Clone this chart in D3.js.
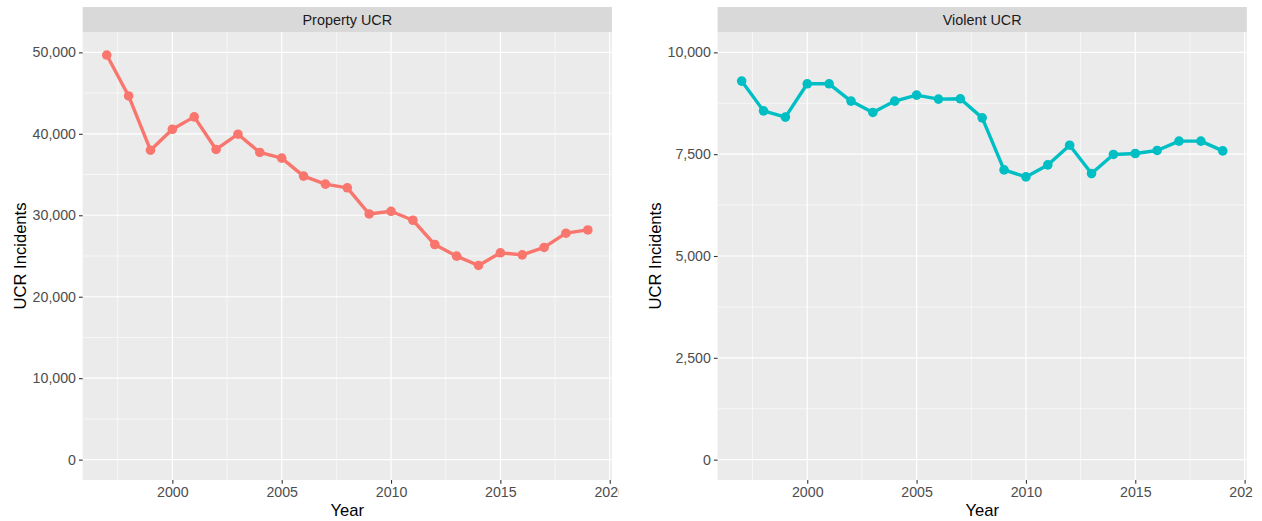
<!DOCTYPE html>
<html>
<head>
<meta charset="utf-8">
<script src="https://cdn.jsdelivr.net/npm/d3@7"></script>
<style>
  body { margin: 0; background: #fff; }
  svg { font-family: "Liberation Sans", Arial, sans-serif; }
</style>
</head>
<body>
<div id="chart"></div>
<script>
// data
var years = [1997, 1998, 1999, 2000, 2001, 2002, 2003, 2004, 2005, 2006, 2007, 2008,
             2009, 2010, 2011, 2012, 2013, 2014, 2015, 2016, 2017, 2018, 2019];
var propertyUCR = [49670, 44650, 37990, 40560, 42080, 38080, 39950, 37710, 37010, 34810, 33830, 33370,
                   30160, 30490, 29390, 26410, 24980, 23840, 25390, 25140, 26050, 27800, 28200];
var violentUCR = [9294, 8564, 8410, 9228, 9228, 8803, 8525, 8803, 8950, 8852, 8860, 8392,
                  7114, 6942, 7237, 7721, 7026, 7493, 7517, 7591, 7820, 7820, 7581];
var propertyTicks = [0, 10000, 20000, 30000, 40000, 50000];
var propertyMinor = [5000, 15000, 25000, 35000, 45000];
var violentTicks = [0, 2500, 5000, 7500, 10000];
var violentMinor = [1250, 3750, 6250, 8750];
var yearTicks = [2000, 2005, 2010, 2015, 2020];
var yearMinor = [1997.5, 2002.5, 2007.5, 2012.5, 2017.5];

var W = 1262, H = 521;
var fmt = d3.format(",");

var svg = d3.select("#chart").append("svg")
  .attr("width", W)
  .attr("height", H);

function drawPanel(o) {
  var top = 32, bottom = 480;

  var clipId = "clip" + o.id;
  svg.append("clipPath").attr("id", clipId)
    .append("rect")
    .attr("x", o.clipLeft).attr("y", 0)
    .attr("width", o.clipRight - o.clipLeft).attr("height", H);

  var g = svg.append("g").attr("clip-path", "url(#" + clipId + ")");

  var x = d3.scaleLinear().domain([1995.9, 2020.1]).range([o.left, o.right]);
  var y = d3.scaleLinear().domain(o.yDomain).range([bottom, top]);

  // panel background
  g.append("rect")
    .attr("x", o.left).attr("y", top)
    .attr("width", o.right - o.left).attr("height", bottom - top)
    .attr("fill", "#ebebeb");

  // strip
  g.append("rect")
    .attr("x", o.left).attr("y", 7)
    .attr("width", o.right - o.left).attr("height", 25)
    .attr("fill", "#d9d9d9");
  g.append("text")
    .attr("x", (o.left + o.right) / 2).attr("y", 24.5)
    .attr("text-anchor", "middle")
    .style("font-size", "14.4px")
    .attr("fill", "#1a1a1a")
    .text(o.title);

  // minor grid
  g.selectAll(".ymin").data(o.minor).enter().append("line")
    .attr("x1", o.left).attr("x2", o.right)
    .attr("y1", function(d) { return y(d); }).attr("y2", function(d) { return y(d); })
    .attr("stroke", "#fff").attr("stroke-width", 0.6);
  g.selectAll(".xmin").data(yearMinor).enter().append("line")
    .attr("y1", top).attr("y2", bottom)
    .attr("x1", function(d) { return x(d); }).attr("x2", function(d) { return x(d); })
    .attr("stroke", "#fff").attr("stroke-width", 0.6);

  // major grid
  g.selectAll(".ymaj").data(o.ticks).enter().append("line")
    .attr("x1", o.left).attr("x2", o.right)
    .attr("y1", function(d) { return y(d); }).attr("y2", function(d) { return y(d); })
    .attr("stroke", "#fff").attr("stroke-width", 1.2);
  g.selectAll(".xmaj").data(yearTicks).enter().append("line")
    .attr("y1", top).attr("y2", bottom)
    .attr("x1", function(d) { return x(d); }).attr("x2", function(d) { return x(d); })
    .attr("stroke", "#fff").attr("stroke-width", 1.2);

  // axes
  var yAxis = g.append("g")
    .attr("transform", "translate(" + o.left + ",0)")
    .call(d3.axisLeft(y).tickValues(o.ticks).tickFormat(fmt).tickSizeOuter(0).tickSize(3.7).tickPadding(3));
  var xAxis = g.append("g")
    .attr("transform", "translate(0," + bottom + ")")
    .call(d3.axisBottom(x).tickValues(yearTicks).tickFormat(d3.format("d")).tickSizeOuter(0).tickSize(3.7).tickPadding(3));
  [yAxis, xAxis].forEach(function(a) {
    a.select(".domain").remove();
    a.selectAll(".tick line").attr("stroke", "#333333").attr("stroke-width", 1.1);
    a.selectAll(".tick text").attr("fill", "#4d4d4d").style("font-size", "14.2px").attr("font-family", null);
  });

  // line and points
  var line = d3.line()
    .x(function(d, i) { return x(years[i]); })
    .y(function(d) { return y(d); });
  g.append("path")
    .datum(o.values)
    .attr("d", line)
    .attr("fill", "none")
    .attr("stroke", o.color)
    .attr("stroke-width", 3.4)
    .attr("stroke-linejoin", "round");
  g.selectAll(".pt").data(o.values).enter().append("circle")
    .attr("cx", function(d, i) { return x(years[i]); })
    .attr("cy", function(d) { return y(d); })
    .attr("r", 4.8)
    .attr("fill", o.color);

  // axis titles
  g.append("text")
    .attr("transform", "translate(" + (o.left - 57) + "," + ((top + bottom) / 2) + ") rotate(-90)")
    .attr("text-anchor", "middle")
    .style("font-size", "16.6px")
    .attr("fill", "#000")
    .text("UCR Incidents");
  g.append("text")
    .attr("x", (o.left + o.right) / 2).attr("y", 516)
    .attr("text-anchor", "middle")
    .style("font-size", "16.6px")
    .attr("fill", "#000")
    .text("Year");
}

drawPanel({
  id: "prop", title: "Property UCR", values: propertyUCR, color: "#F8766D",
  left: 82.7, right: 611.9, clipLeft: 0, clipRight: 618.5,
  yDomain: [-2500, 52500], ticks: propertyTicks, minor: propertyMinor
});
drawPanel({
  id: "viol", title: "Violent UCR", values: violentUCR, color: "#00BFC4",
  left: 717.6, right: 1246.8, clipLeft: 630, clipRight: 1252.5,
  yDomain: [-500, 10500], ticks: violentTicks, minor: violentMinor
});
</script>
</body>
</html>
